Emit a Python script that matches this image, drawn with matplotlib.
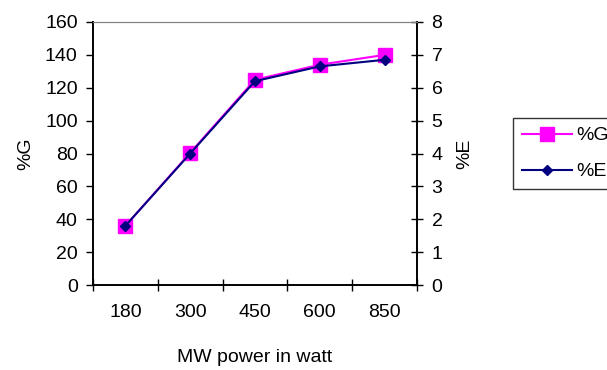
import matplotlib.pyplot as plt
import numpy as np

plt.rcParams['font.family'] = ['Liberation Sans', 'DejaVu Sans']

power = ['180', '300', '450', '600', '850']
g_pct = [36, 80.4, 124.9, 134, 140]
e_pct = [1.8, 4.0, 6.2, 6.65, 6.85]

x = np.arange(len(power))

fig = plt.figure(figsize=(6.07, 3.70), dpi=100)
ax = fig.add_axes([93 / 607, 85 / 370, 324 / 607, 263 / 370])
ax2 = ax.twinx()

l1, = ax.plot(x, g_pct, color='#ff00ff', marker='s', markersize=10.5, lw=1.5, label='%G')
l2, = ax2.plot(x, e_pct, color='#000080', marker='D', markersize=5.5, lw=1.5, label='%E')

ax.set_xlim(-0.5, len(power) - 0.5)
ax.set_ylim(0, 160)
ax.set_yticks(range(0, 161, 20))
ax2.set_ylim(0, 8)
ax2.set_yticks(range(0, 9))

# category ticks at boundaries, labels at the centres
ax.set_xticks(np.arange(-0.5, len(power)), minor=False)
ax.set_xticklabels([])
ax.set_xticks(x, minor=True)
ax.set_xticklabels(power, minor=True)
ax.tick_params(axis='x', which='major', direction='inout', length=9, width=1)
ax.tick_params(axis='x', which='minor', length=0, pad=14, labelsize=14)
ax.tick_params(axis='y', direction='out', length=5, width=1, labelsize=14, pad=6)
ax2.tick_params(axis='y', direction='inout', length=9, width=1, labelsize=14, pad=6)

for a in (ax, ax2):
    a.spines['top'].set_color('#808080')
    a.spines['left'].set_linewidth(1.2)
    a.spines['bottom'].set_linewidth(1.2)
    a.spines['right'].set_linewidth(1.2)

ax.set_xlabel('MW power in watt', fontsize=14, labelpad=20)
ax.set_ylabel('%G', fontsize=14, labelpad=8)
ax2.set_ylabel('%E', fontsize=14, labelpad=10)

fig.legend([l1, l2], ['%G', '%E'], loc='upper left',
           bbox_to_anchor=(513 / 607, 1 - 118 / 370), fontsize=14,
           frameon=True, fancybox=False, edgecolor='black', handlelength=2.6,
           borderpad=0.45, labelspacing=0.95, handletextpad=0.2, borderaxespad=0)

fig.savefig('out.png', dpi=100)
